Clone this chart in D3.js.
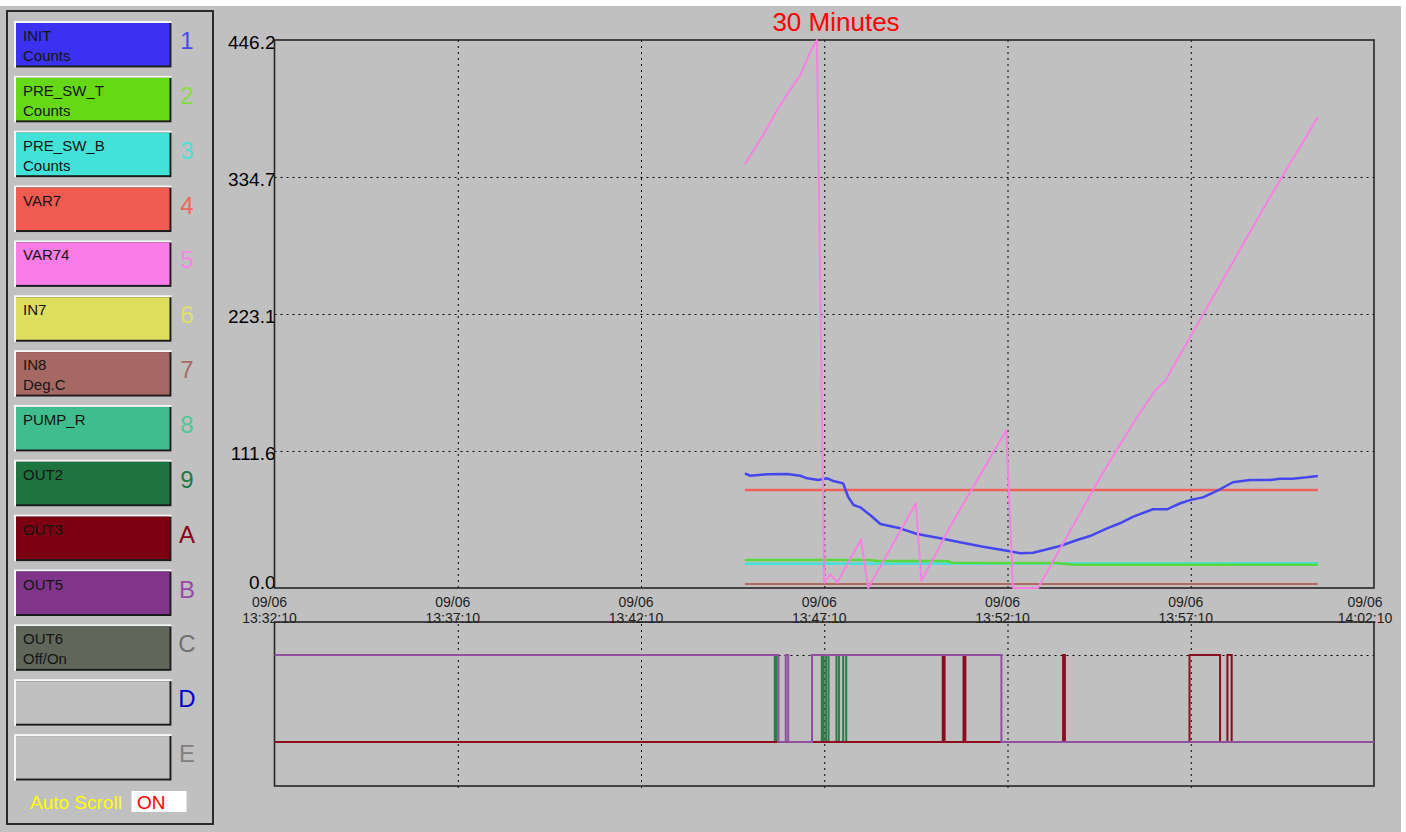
<!DOCTYPE html>
<html>
<head>
<meta charset="utf-8">
<script src="https://cdn.jsdelivr.net/npm/d3@7"></script>
<style>
  body { margin: 0; background: #fff; }
  svg { display: block; font-family: Arial, "Liberation Sans", sans-serif; }
</style>
</head>
<body>
<svg id="chart" width="1406" height="832"></svg>
<script>
// ---- pens (legend) ----
const penIds = ["1", "2", "3", "4", "5", "6", "7", "8", "9", "A", "B", "C", "D", "E"];
const penNames = ["INIT", "PRE_SW_T", "PRE_SW_B", "VAR7", "VAR74", "IN7", "IN8", "PUMP_R", "OUT2", "OUT3", "OUT5", "OUT6", "", ""];
const penUnits = ["Counts", "Counts", "Counts", "", "", "", "Deg.C", "", "", "", "", "Off/On", "", ""];

// ---- axes ----
const chartTitle = "30 Minutes";
const chartDay = "09/06";
const timeStart = "13:32:10";
const timeEnd = "14:02:10";
const yTicks = [0.0, 111.6, 223.1, 334.7, 446.2];

// ---- analog series [time, value] ----
const initCounts = [
  ["13:45:00", 93.4], ["13:45:09", 91.4], ["13:45:37", 92.6], ["13:46:09", 92.8], ["13:46:31", 91.4],
  ["13:46:42", 89.3], ["13:47:00", 87.9], ["13:47:15", 89.3], ["13:47:25", 87.1], ["13:47:41", 85.2],
  ["13:47:49", 74.3], ["13:47:58", 67.6], ["13:48:09", 65.7], ["13:48:25", 59.4], ["13:48:42", 52.1],
  ["13:49:14", 48.6], ["13:49:42", 44.0], ["13:50:20", 40.5], ["13:50:48", 37.7], ["13:51:30", 33.6],
  ["13:52:09", 30.4], ["13:52:31", 28.3], ["13:52:52", 28.7], ["13:53:15", 31.5], ["13:53:36", 34.2],
  ["13:54:04", 39.1], ["13:54:25", 42.3], ["13:54:53", 48.6], ["13:55:14", 52.7], ["13:55:36", 58.1],
  ["13:56:08", 64.1], ["13:56:31", 64.1], ["13:56:53", 69.0], ["13:57:09", 71.6], ["13:57:30", 73.8],
  ["13:57:58", 80.4], ["13:58:19", 86.1], ["13:58:47", 87.9], ["13:59:20", 87.9], ["13:59:36", 89.0],
  ["13:59:57", 89.0], ["14:00:20", 90.1], ["14:00:38", 91.2]
];
const preSwT = [
  ["13:45:00", 22.8], ["13:48:25", 22.8], ["13:48:35", 22.0], ["13:50:30", 22.0], ["13:50:40", 20.6],
  ["13:53:30", 20.3], ["13:54:00", 19.0], ["14:00:38", 19.0]
];
const preSwB = [["13:45:00", 19.8], ["14:00:38", 20.1]];
const var7 = [["13:45:00", 79.8], ["14:00:38", 79.8]];
const var74 = [
  ["13:45:00", 345.2], ["13:45:30", 368.8], ["13:45:53", 389.2], ["13:46:14", 405.5], ["13:46:31", 417.7],
  ["13:46:47", 436.4], ["13:46:58", 446.2], ["13:47:10", 4.3], ["13:47:20", 11.4], ["13:47:31", 4.3],
  ["13:48:10", 39.6], ["13:48:22", 0.0], ["13:49:40", 69.0], ["13:49:49", 5.7], ["13:50:36", 49.9],
  ["13:52:08", 128.6], ["13:52:19", 0.0], ["13:53:00", 0.0], ["13:54:42", 90.4], ["13:55:39", 136.8],
  ["13:56:12", 161.2], ["13:56:28", 168.5], ["13:57:25", 218.2], ["13:59:17", 315.9], ["13:59:53", 346.0],
  ["14:00:09", 359.1], ["14:00:38", 383.5]
];
const in8 = [["13:45:00", 3.3], ["14:00:38", 3.3]];

// ---- digital series [time, state] ----
const out2 = [
  ["13:32:10", 0], ["13:45:49", 1], ["13:45:52", 0], ["13:47:06", 1], ["13:47:09", 0],
  ["13:47:13", 1], ["13:47:17", 0], ["13:47:30", 1], ["13:47:34", 0], ["13:47:41", 1],
  ["13:47:46", 0], ["14:02:10", 0]
];
const out3 = [
  ["13:32:10", 0], ["13:50:24", 1], ["13:50:27", 0], ["13:50:58", 1], ["13:51:01", 0],
  ["13:53:41", 1], ["13:53:44", 0], ["13:57:08", 1], ["13:57:58", 0], ["13:58:10", 1],
  ["13:58:17", 0], ["14:02:10", 0]
];
const out5 = [
  ["13:32:10", 1], ["13:45:55", 0], ["13:46:07", 1], ["13:46:11", 0], ["13:46:50", 1],
  ["13:52:00", 0], ["14:02:10", 0]
];

// colours
const penFill = ["#3a32f0", "#66d916", "#42e2d8", "#f05a50", "#fa7ce8", "#dede5e", "#a66862",
                 "#40bd8e", "#1e743e", "#7c0012", "#80358a", "#61665a", "#c0c0c0", "#c0c0c0"];
const penIdColor = ["#4a48f2", "#86dc40", "#4ce0d8", "#f06458", "#f884e6", "#e0e068", "#a86a64",
                    "#4cc894", "#227844", "#880018", "#9848a8", "#707070", "#0000c8", "#808080"];

const parseT = d3.timeParse("%m/%d %H:%M:%S");
const T = s => parseT(chartDay + " " + s);

const svg = d3.select("#chart");

// background
svg.append("rect").attr("x", 0).attr("y", 6).attr("width", 1401).attr("height", 826).attr("fill", "#c0c0c0");

// ---- legend panel ----
svg.append("rect").attr("x", 7).attr("y", 11).attr("width", 206).attr("height", 813)
  .attr("fill", "none").attr("stroke", "#2a2a2a").attr("stroke-width", 2);

const pen = svg.append("g").selectAll("g").data(penIds).join("g")
  .attr("transform", (d, i) => `translate(0,${21 + i * 54.85})`);

pen.append("rect").attr("x", 14).attr("y", 0).attr("width", 157.5).attr("height", 46.5).attr("fill", "#f6f6f6");
pen.append("rect").attr("x", 16).attr("y", 2).attr("width", 155.5).attr("height", 44.5).attr("fill", "#1c1c1c");
pen.append("rect").attr("x", 16).attr("y", 2).attr("width", 153.5).attr("height", 42.5).attr("fill", (d, i) => penFill[i]);

pen.append("text").attr("x", 23).attr("y", 20).attr("font-size", 15).attr("fill", "#141414")
  .text((d, i) => penNames[i]);
pen.append("text").attr("x", 23).attr("y", 40).attr("font-size", 15).attr("fill", "#141414")
  .text((d, i) => penUnits[i]);
pen.append("text").attr("x", 187).attr("y", 28).attr("font-size", 24).attr("text-anchor", "middle")
  .attr("fill", (d, i) => penIdColor[i]).text(d => d);

svg.append("text").attr("x", 30).attr("y", 809).attr("font-size", 19).attr("fill", "#ffff00").text("Auto Scroll");
svg.append("rect").attr("x", 131.5).attr("y", 791).attr("width", 55).attr("height", 21).attr("fill", "#fff");
svg.append("text").attr("x", 137).attr("y", 809).attr("font-size", 19).attr("fill", "#ff0000").text("ON");

// ---- chart areas ----
const X0 = 274.5, X1 = 1374;
const Y0 = 40, Y1 = 588;      // analog plot
const L0 = 622, L1 = 786;     // digital plot

const x = d3.scaleTime().domain([T(timeStart), T(timeEnd)]).range([X0, X1]);
const y = d3.scaleLinear().domain([0, 446.2]).range([Y1, Y0]);
const yd = d3.scaleLinear().domain([0, 1]).range([742, 655]);

const xTicks = d3.range(0, 7).map(i => d3.timeMinute.offset(T(timeStart), 5 * i));
const innerX = xTicks.slice(1, -1);

svg.append("text").attr("x", 836).attr("y", 31).attr("font-size", 26).attr("text-anchor", "middle")
  .attr("fill", "#ff0000").text(chartTitle);

function dashed(g) {
  g.select(".domain").remove();
  g.selectAll(".tick line").attr("stroke", "#000").attr("stroke-dasharray", "2,4");
  g.selectAll(".tick text").remove();
}

// analog grid
svg.append("g").attr("transform", `translate(${X0},0)`)
  .call(d3.axisLeft(y).tickValues(yTicks.slice(1, -1)).tickSize(-(X1 - X0)))
  .call(dashed);
svg.append("g").attr("transform", `translate(0,${Y0})`)
  .call(d3.axisBottom(x).tickValues(innerX).tickSize(Y1 - Y0))
  .call(dashed);

// digital grid
svg.append("g").attr("transform", `translate(${X0},0)`)
  .call(d3.axisLeft(yd).tickValues([1]).tickSize(-(X1 - X0)))
  .call(dashed);
svg.append("g").attr("transform", `translate(0,${L0 - 4})`)
  .call(d3.axisBottom(x).tickValues(innerX).tickSize(L1 - L0 + 8))
  .call(dashed);

// y labels
const yAxis = svg.append("g").attr("transform", `translate(${X0 + 1},2)`)
  .call(d3.axisLeft(y).tickValues(yTicks).tickSize(0).tickPadding(0).tickFormat(d3.format(".1f")));
yAxis.select(".domain").remove();
yAxis.selectAll("text").attr("font-size", 19).attr("font-family", "Arial, 'Liberation Sans', sans-serif")
  .attr("fill", "#000").attr("dy", d => d === 0 ? "-0.1em" : "0.32em");

// x labels (two lines)
const fmtDay = d3.timeFormat("%m/%d"), fmtTime = d3.timeFormat("%H:%M:%S");
const xl = svg.append("g").selectAll("text").data(xTicks).join("text")
  .attr("font-size", 14).attr("fill", "#1e1e1e").attr("text-anchor", "middle")
  .attr("transform", d => `translate(${Math.min(x(d) - 5, 1365)},0)`);
xl.append("tspan").attr("x", 0).attr("y", 607).text(fmtDay);
xl.append("tspan").attr("x", 0).attr("y", 623).text(fmtTime);

// frames
[[Y0, Y1], [L0, L1]].forEach(([a, b]) => {
  svg.append("rect").attr("x", X0).attr("y", a).attr("width", X1 - X0).attr("height", b - a)
    .attr("fill", "none").attr("stroke", "#262626").attr("stroke-width", 1.6);
});

// analog lines
const line = d3.line().x(d => x(T(d[0]))).y(d => y(d[1]));
const analog = [
  { data: in8, color: "#b06a62", w: 2 },
  { data: preSwB, color: "#44e0dc", w: 2.5 },
  { data: preSwT, color: "#58d83c", w: 2.5 },
  { data: var7, color: "#f0605a", w: 2.5 },
  { data: initCounts, color: "#4646f0", w: 2.5 },
  { data: var74, color: "#f880e2", w: 2 }
];
svg.append("g").selectAll("path").data(analog).join("path")
  .attr("d", d => line(d.data)).attr("fill", "none")
  .attr("stroke", d => d.color).attr("stroke-width", d => d.w).attr("stroke-linejoin", "round");

// digital lines
const step = d3.line().curve(d3.curveStepAfter).x(d => x(T(d[0]))).y(d => yd(d[1]));
const digital = [
  { data: out2, color: "#2e7c48" },
  { data: out3, color: "#8c0c20" },
  { data: out5, color: "#9050a0" }
];
svg.append("g").selectAll("path").data(digital).join("path")
  .attr("d", d => step(d.data)).attr("fill", "none")
  .attr("stroke", d => d.color).attr("stroke-width", 2);
</script>
</body>
</html>
